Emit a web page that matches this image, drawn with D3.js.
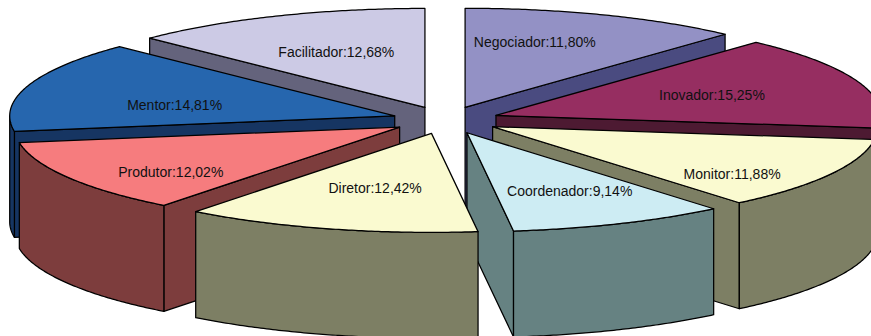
<!DOCTYPE html>
<html>
<head>
<meta charset="utf-8">
<script src="https://cdn.jsdelivr.net/npm/d3@7/dist/d3.min.js"></script>
<style>
html,body{margin:0;padding:0;background:#fff;overflow:hidden}
svg{display:block}
text{font-family:"Liberation Sans",Arial,sans-serif;font-size:14px;fill:#111;text-anchor:middle}
</style>
</head>
<body>
<svg id="c" width="871" height="336"></svg>
<script>
const categories = ["Negociador","Inovador","Monitor","Coordenador","Diretor","Produtor","Mentor","Facilitador"];
const values = [11.80,15.25,11.88,9.14,12.42,12.02,14.81,12.68];
const topColors = ["#9391c5","#962e61","#fafad0","#cdecf3","#fafad0","#f67c7e","#2666ae","#cccae5"];
const wallColors = ["#4a4b80","#4d1a32","#7d7f64","#668282","#7d7f64","#7d3d3d","#163562","#64637c"];

const W = 871, H = 336;
const cx = 445.7, cy = 120.1, rx = 385, ry = 99, depth = 106, explode = 0.139;
const TAU = 2 * Math.PI, DEG = Math.PI / 180;

const x = d3.scaleLinear().domain([-1, 1]).range([cx - rx, cx + rx]);
const y = d3.scaleLinear().domain([-1, 1]).range([cy - ry, cy + ry]);

const pie = d3.pie().sort(null).startAngle(0).endAngle(TAU);
const arcs = pie(values).map((d, i) => ({
  ...d, i, mid: (d.startAngle + d.endAngle) / 2
}));

const line = d3.line().curve(d3.curveLinear);
const svg = d3.select("#c");

function pt(d, a, r, dz) {
  return [
    x(explode * Math.sin(d.mid) + r * Math.sin(a)),
    y(-explode * Math.cos(d.mid) - r * Math.cos(a)) + (dz || 0)
  ];
}
function sweep(a0, a1) {
  const n = Math.max(2, Math.ceil((a1 - a0) / (0.5 * DEG)));
  return d3.range(n + 1).map(k => a0 + (a1 - a0) * k / n);
}
function topPath(d) {
  return line([pt(d, 0, 0), ...sweep(d.startAngle, d.endAngle).map(a => pt(d, a, 1))]) + "Z";
}
function radialPath(d, a) {
  return line([pt(d, 0, 0), pt(d, a, 1), pt(d, a, 1, depth), pt(d, 0, 0, depth)]) + "Z";
}
function outerPath(d, a0, a1) {
  const s = sweep(a0, a1);
  return line([...s.map(a => pt(d, a, 1)), ...s.slice().reverse().map(a => pt(d, a, 1, depth))]) + "Z";
}

// back-to-front painting order (indices into categories)
const paintOrder = [7, 0, 6, 1, 5, 2, 3, 4];
const strokeW = 1.25;

paintOrder.forEach(i => {
  const d = arcs[i];
  const g = svg.append("g").attr("stroke", "#000").attr("stroke-width", strokeW).attr("stroke-linejoin", "round");
  if (Math.sin(d.startAngle) < -1e-6) g.append("path").attr("d", radialPath(d, d.startAngle)).attr("fill", wallColors[i]);
  if (Math.sin(d.endAngle) > 1e-6) g.append("path").attr("d", radialPath(d, d.endAngle)).attr("fill", wallColors[i]);
  const a0 = Math.max(d.startAngle, Math.PI / 2), a1 = Math.min(d.endAngle, 3 * Math.PI / 2);
  if (a1 > a0) g.append("path").attr("d", outerPath(d, a0, a1)).attr("fill", wallColors[i]);
  g.append("path").attr("d", topPath(d)).attr("fill", topColors[i]);
});

// label placement: radial fraction plus a per-label layout nudge
const labelFrac = 0.6;
const labelNudge = [[-14,-9],[-1,1],[37,19],[11,4],[5,-2],[-30,15],[0,8],[1,0]];
arcs.forEach((d, i) => {
  const p = pt(d, d.mid, labelFrac);
  svg.append("text")
    .attr("x", p[0] + labelNudge[i][0])
    .attr("y", p[1] + labelNudge[i][1] + 4.5)
    .text(categories[i] + ":" + d3.format(".2f")(values[i]).replace(".", ",") + "%");
});
</script>
</body>
</html>
